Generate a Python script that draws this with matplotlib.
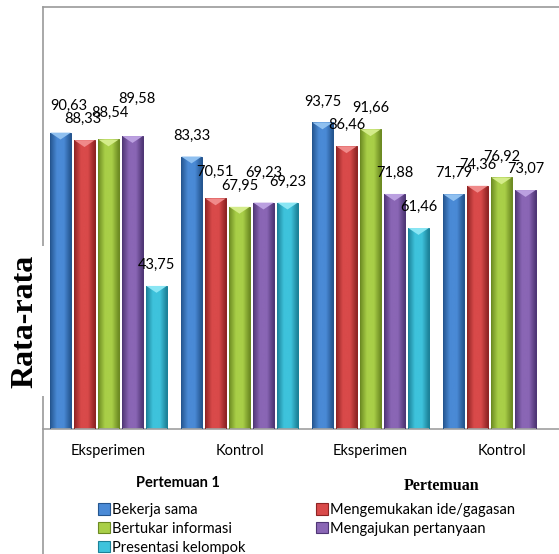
import numpy as np
import matplotlib
matplotlib.use("Agg")
import matplotlib.pyplot as plt
from matplotlib.colors import LinearSegmentedColormap
from matplotlib.lines import Line2D
from matplotlib.patches import Patch, Polygon

# Data
categories = ["Eksperimen", "Kontrol", "Eksperimen", "Kontrol"]
series = ["Bekerja sama", "Mengemukakan ide/gagasan", "Bertukar informasi",
          "Mengajukan pertanyaan", "Presentasi kelompok"]
bekerja = [90.63, 83.33, 93.75, 71.79]
mengemukakan = [88.33, 70.51, 86.46, 74.36]
bertukar = [88.54, 67.95, 91.66, 76.92]
mengajukan = [89.58, 69.23, 71.88, 73.07]
presentasi = [43.75, 69.23, 61.46, np.nan]
values = [bekerja, mengemukakan, bertukar, mengajukan, presentasi]

# Colours (light, dark) per series
light = ["#4a8ad6", "#d94a4a", "#a9cf48", "#8a66b5", "#3ec3dc"]
dark = ["#24558f", "#8f2424", "#6c8a22", "#4f3675", "#1c8198"]
caps = ["#8fc0f0", "#f08a8a", "#d4ec8a", "#bba0e0", "#8ae6f4"]

# label nudges (pixels) for the overlapping value labels
nudge = {(0, 0): (8, 6), (0, 1): (-2, 0), (0, 2): (1, 6), (0, 3): (4, 16),
         (1, 1): (-1, 6), (1, 3): (0, 9)}

plt.rcParams["font.family"] = ["Lato", "DejaVu Sans"]

W, H = 559, 554
fig = plt.figure(figsize=(W / 100, H / 100), dpi=100)
ax = fig.add_axes([43 / W, (H - 429) / H, 524 / W, 422 / H])

x = np.arange(len(categories))
step = 0.1832
width = 0.157
ymax = 129.05
cap_h = 2.1

for i, vals in enumerate(values):
    bars = ax.bar(x + (i - 2) * step, vals, width, color=light[i],
                  edgecolor=dark[i], linewidth=0.6, zorder=2)
    cmap = LinearSegmentedColormap.from_list(
        "g%d" % i, [dark[i], light[i], light[i], dark[i]])
    grad = np.linspace(0, 1, 64).reshape(1, -1)
    for j, b in enumerate(bars):
        v = vals[j]
        if np.isnan(v):
            continue
        x0 = b.get_x()
        x1 = x0 + b.get_width()
        im = ax.imshow(grad, cmap=cmap, extent=(x0, x1, 0, v), aspect="auto",
                       zorder=2.5, interpolation="bicubic")
        im.set_clip_path(b)
        ax.add_patch(Polygon([(x0, v), (x1, v), ((x0 + x1) / 2, v - cap_h)],
                             closed=True, facecolor=caps[i], edgecolor="none",
                             zorder=3))
        ax.add_patch(Polygon([(x0, v), (x0, 0), (x1, 0), (x1, v)], closed=False,
                             fill=False, edgecolor=dark[i], linewidth=0.7, zorder=3))
        dx, dy = nudge.get((j, i), (0, 0))
        ax.annotate(("%.2f" % v).replace(".", ","), (x0 + b.get_width() / 2, v),
                    xytext=(dx, 21 + dy), textcoords="offset pixels",
                    ha="center", va="center", fontsize=10.5, zorder=4)

ax.set_xlim(-0.5, 3.5)
ax.set_ylim(0, ymax)
ax.set_xticks(x)
ax.set_xticklabels(categories, fontsize=10.5)
ax.tick_params(axis="x", length=0, pad=11)
ax.set_yticks([])
for s in ["left", "right", "top"]:
    ax.spines[s].set_visible(False)
ax.spines["bottom"].set_color("#a0a0a0")
ax.spines["bottom"].set_linewidth(1.2)

# chart border (left and top)
fig.add_artist(Line2D([43 / W, 43 / W], [0, (H - 7) / H], color="#9a9a9a", lw=1.2, zorder=1))
fig.add_artist(Line2D([43 / W, 1], [(H - 7) / H, (H - 7) / H], color="#9a9a9a", lw=1.2, zorder=1))

fig.text(25 / W, 1 - 321 / H, "Rata-rata", rotation=90, ha="center", va="center",
         fontsize=23, fontweight="bold", family="Liberation Serif", zorder=5,
         bbox=dict(facecolor="white", edgecolor="none", pad=6))
fig.text(178 / W, 1 - 483 / H, "Pertemuan 1", ha="center", va="center",
         fontsize=10.5, fontweight="bold")
fig.text(442 / W, 1 - 486 / H, "Pertemuan", ha="center", va="center",
         fontsize=11.5, fontweight="bold", family="Liberation Serif")

handles = [Patch(facecolor=light[i], edgecolor=dark[i], linewidth=0.8) for i in range(5)]
leg_kw = dict(frameon=False, fontsize=10.5, handlelength=0.8, handleheight=0.8,
              handletextpad=0.15, labelspacing=0.33, borderpad=0, borderaxespad=0,
              loc="upper left")
leg1 = fig.legend([handles[0], handles[2], handles[4]], [series[0], series[2], series[4]],
                  bbox_to_anchor=(98 / W, 1 - 503 / H), **leg_kw)
leg2 = fig.legend([handles[1], handles[3]], [series[1], series[3]],
                  bbox_to_anchor=(316 / W, 1 - 503 / H), **leg_kw)

fig.savefig("out.png", dpi=100)
